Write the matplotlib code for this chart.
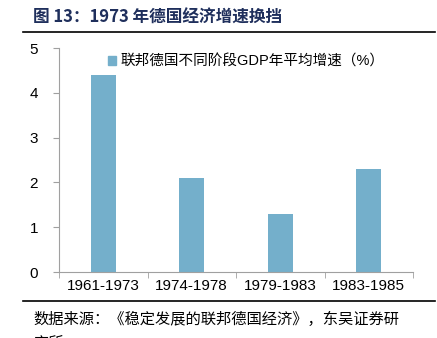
import matplotlib.pyplot as plt
from matplotlib.lines import Line2D
from matplotlib.patches import Patch

plt.rcParams['font.family'] = ['Liberation Sans', 'Noto Sans CJK SC', 'DejaVu Sans']

periods = ["1961-1973", "1974-1978", "1979-1983", "1983-1985"]
gdp_growth = [4.4, 2.1, 1.3, 2.3]
y_ticks = [0, 1, 2, 3, 4, 5]
series_name = "联邦德国不同阶段GDP年平均增速（%）"

W, H = 437, 338
fig = plt.figure(figsize=(W / 100, H / 100), dpi=100)
ax = fig.add_axes([59 / W, (H - 272) / H, (413 - 59) / W, (272 - 48) / H])

ax.bar(range(len(periods)), gdp_growth, width=0.28, color="#74afcb")
ax.set_xlim(-0.5, len(periods) - 0.5)
ax.set_ylim(0, 5)
ax.set_yticks(y_ticks)
ax.set_xticks(range(len(periods)))
ax.set_xticklabels(periods, fontsize=11)
ax.set_xticks([i - 0.5 for i in range(len(periods) + 1)], minor=True)
ax.tick_params(axis="x", which="major", length=0, pad=5)
ax.tick_params(axis="x", which="minor", length=4, color="#a0a0a0", direction="out")
ax.tick_params(axis="y", length=4, color="#a0a0a0", labelsize=11, pad=11)
for s in ["top", "right"]:
    ax.spines[s].set_visible(False)
for s in ["left", "bottom"]:
    ax.spines[s].set_color("#a0a0a0")
    ax.spines[s].set_linewidth(0.8)

ax.legend(handles=[Patch(color="#74afcb", label=series_name)],
          loc="upper left", bbox_to_anchor=(0.1, 1.03), frameon=False,
          handlelength=0.6, handleheight=0.6, handletextpad=0.3,
          prop={"family": ["Liberation Sans", "Noto Sans CJK SC"], "size": 10.5})

fig.text(33 / W, 1 - 18 / H, "图 13：1973 年德国经济增速换挡", fontsize=12,
         fontweight="bold", color="#1f2f5c", va="center",
         family=["Noto Sans CJK SC", "DejaVu Sans"])
fig.add_artist(Line2D([23 / W, 435 / W], [1 - 32 / H, 1 - 32 / H], color="black", lw=1.2))
fig.add_artist(Line2D([23 / W, 435 / W], [1 - 301 / H, 1 - 301 / H], color="black", lw=1.2))
fig.text(33 / W, 1 - 319 / H, "数据来源：《稳定发展的联邦德国经济》，东吴证券研", fontsize=11,
         va="center", family=["Noto Sans CJK SC", "DejaVu Sans"])
fig.text(33 / W, 1 - 343 / H, "究所", fontsize=11,
         va="center", family=["Noto Sans CJK SC", "DejaVu Sans"])

fig.savefig("out.png", dpi=100)
